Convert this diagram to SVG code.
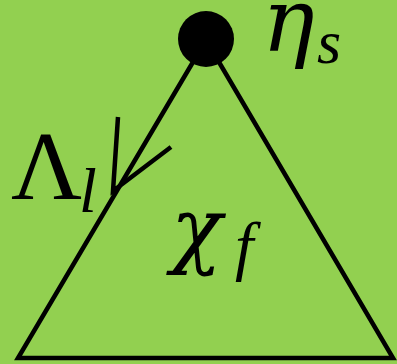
<svg xmlns="http://www.w3.org/2000/svg" width="397" height="364" viewBox="0 0 397 364">
<style>
.ln{stroke:#000;stroke-width:4.5;fill:none;stroke-linecap:butt}
.t{font-family:"Liberation Serif","Times New Roman",serif;fill:#000}
.g{font-family:"DejaVu Serif","Liberation Serif",serif;fill:#000}
.i{font-style:italic}
</style>
<rect width="397" height="364" fill="#92D050"/>
<g id="connectors">
<polygon class="ln" points="206,40 18,358 393,358"/>
<polyline class="ln" points="118,117 113,191 171,147"/>
</g>
<g id="node-eta">
<circle cx="206" cy="39" r="28" fill="#000"/>
<text class="g i" x="262" y="51" font-size="88">η</text>
<text class="t i" x="317" y="63" font-size="62">s</text>
</g>
<g id="label-lambda">
<text class="t" x="11" y="199" font-size="98">Λ</text>
<text class="t i" x="79" y="212" font-size="64">l</text>
</g>
<g id="label-chi">
<text class="g i" x="171" y="257" font-size="84">χ</text>
<text class="t i" x="235" y="268" font-size="66">f</text>
</g>
</svg>
